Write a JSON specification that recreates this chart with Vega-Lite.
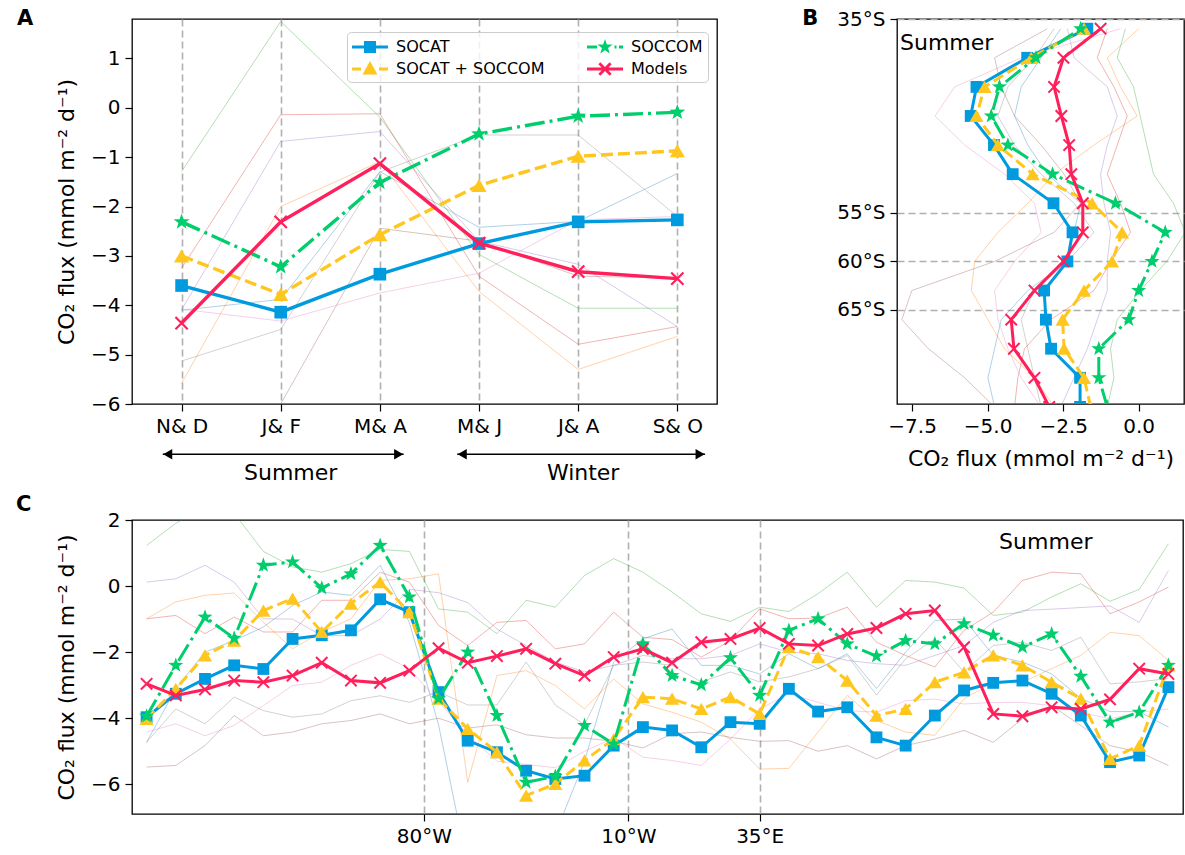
{
"$schema": "https://vega.github.io/schema/vega-lite/v6.json",
"background": "white",
"padding": {"left": 15, "top": 7, "right": 4, "bottom": 4},
"config": {
  "font": "DejaVu Sans",
  "view": {"stroke": "black", "strokeWidth": 1.3},
  "axis": {"domain": false, "grid": false, "tickColor": "black", "tickSize": 7, "tickWidth": 1.2, "labelFontSize": 20, "labelColor": "black", "labelPadding": 5, "titleFontSize": 22, "titleFontWeight": "normal", "titleColor": "black", "labelFont": "DejaVu Sans", "titleFont": "DejaVu Sans"}
},
"datasets": {
  "a_main": [
    {"s":"SOCAT","m":0,"v":-3.6},{"s":"SOCAT","m":1,"v":-4.14},{"s":"SOCAT","m":2,"v":-3.37},{"s":"SOCAT","m":3,"v":-2.75},{"s":"SOCAT","m":4,"v":-2.31},{"s":"SOCAT","m":5,"v":-2.27},
    {"s":"SOCAT + SOCCOM","m":0,"v":-3.0},{"s":"SOCAT + SOCCOM","m":1,"v":-3.78},{"s":"SOCAT + SOCCOM","m":2,"v":-2.57},{"s":"SOCAT + SOCCOM","m":3,"v":-1.57},{"s":"SOCAT + SOCCOM","m":4,"v":-0.98},{"s":"SOCAT + SOCCOM","m":5,"v":-0.87},
    {"s":"SOCCOM","m":0,"v":-2.31},{"s":"SOCCOM","m":1,"v":-3.22},{"s":"SOCCOM","m":2,"v":-1.51},{"s":"SOCCOM","m":3,"v":-0.53},{"s":"SOCCOM","m":4,"v":-0.17},{"s":"SOCCOM","m":5,"v":-0.09},
    {"s":"Models","m":0,"v":-4.36},{"s":"Models","m":1,"v":-2.31},{"s":"Models","m":2,"v":-1.13},{"s":"Models","m":3,"v":-2.74},{"s":"Models","m":4,"v":-3.32},{"s":"Models","m":5,"v":-3.46}
  ],
  "a_thin": [
    {"k":"m1","m":0,"v":-4.1},{"k":"m1","m":1,"v":-3.88},{"k":"m1","m":2,"v":-1.29},{"k":"m1","m":3,"v":-2.42},{"k":"m1","m":4,"v":-2.3},{"k":"m1","m":5,"v":-1.33},
    {"k":"m2","m":0,"v":-5.58},{"k":"m2","m":1,"v":-2.0},{"k":"m2","m":2,"v":-1.09},{"k":"m2","m":3,"v":-3.72},{"k":"m2","m":4,"v":-5.3},{"k":"m2","m":5,"v":-4.63},
    {"k":"m3","m":0,"v":-1.29},{"k":"m3","m":1,"v":1.75},{"k":"m3","m":2,"v":-0.19},{"k":"m3","m":3,"v":-2.97},{"k":"m3","m":4,"v":-4.06},{"k":"m3","m":5,"v":-4.06},
    {"k":"m4","m":0,"v":-3.25},{"k":"m4","m":1,"v":-0.14},{"k":"m4","m":2,"v":-0.12},{"k":"m4","m":3,"v":-3.41},{"k":"m4","m":4,"v":-4.79},{"k":"m4","m":5,"v":-4.43},
    {"k":"m5","m":0,"v":-4.09},{"k":"m5","m":1,"v":-0.68},{"k":"m5","m":2,"v":-0.48},{"k":"m5","m":3,"v":-2.7},{"k":"m5","m":4,"v":-3.17},{"k":"m5","m":5,"v":-4.43},
    {"k":"m6","m":0,"v":-7.0},{"k":"m6","m":1,"v":-6.0},{"k":"m6","m":2,"v":-2.44},{"k":"m6","m":3,"v":-2.7},{"k":"m6","m":4,"v":-3.41},{"k":"m6","m":5,"v":-3.45},
    {"k":"m7","m":0,"v":-4.08},{"k":"m7","m":1,"v":-4.32},{"k":"m7","m":2,"v":-3.75},{"k":"m7","m":3,"v":-3.35},{"k":"m7","m":4,"v":-2.27},{"k":"m7","m":5,"v":-2.2},
    {"k":"m8","m":0,"v":-5.13},{"k":"m8","m":1,"v":-4.49},{"k":"m8","m":2,"v":-1.3},{"k":"m8","m":3,"v":-0.55},{"k":"m8","m":4,"v":-0.55},{"k":"m8","m":5,"v":-2.2}
  ],
  "a_arrows": [{"x1":-0.19,"x2":2.24,"y":-7.02},{"x1":2.78,"x2":5.28,"y":-7.02}],
  "a_text": [{"x":1.1,"y":-7.4,"t":"Summer"},{"x":4.05,"y":-7.4,"t":"Winter"}],
  "a_label": [{"x":-1.66,"y":1.8,"t":"A"}],
  "legend": [{"s":"SOCAT"},{"s":"SOCAT + SOCCOM"},{"s":"SOCCOM"},{"s":"Models"}],
  "b_main": [
    {"s":"SOCAT","lat":-36,"v":-1.7},{"s":"SOCAT","lat":-39,"v":-3.69},{"s":"SOCAT","lat":-42,"v":-5.37},{"s":"SOCAT","lat":-45,"v":-5.56},{"s":"SOCAT","lat":-48,"v":-4.79},{"s":"SOCAT","lat":-51,"v":-4.17},{"s":"SOCAT","lat":-54,"v":-2.82},{"s":"SOCAT","lat":-57,"v":-2.19},{"s":"SOCAT","lat":-60,"v":-2.36},{"s":"SOCAT","lat":-63,"v":-3.13},{"s":"SOCAT","lat":-66,"v":-3.07},{"s":"SOCAT","lat":-69,"v":-2.9},{"s":"SOCAT","lat":-72,"v":-1.94},{"s":"SOCAT","lat":-75,"v":-1.94},
    {"s":"SOCAT + SOCCOM","lat":-36,"v":-1.81},{"s":"SOCAT + SOCCOM","lat":-39,"v":-3.56},{"s":"SOCAT + SOCCOM","lat":-42,"v":-5.1},{"s":"SOCAT + SOCCOM","lat":-45,"v":-5.37},{"s":"SOCAT + SOCCOM","lat":-48,"v":-4.66},{"s":"SOCAT + SOCCOM","lat":-51,"v":-3.51},{"s":"SOCAT + SOCCOM","lat":-54,"v":-1.54},{"s":"SOCAT + SOCCOM","lat":-57,"v":-0.55},{"s":"SOCAT + SOCCOM","lat":-60,"v":-0.88},{"s":"SOCAT + SOCCOM","lat":-63,"v":-1.81},{"s":"SOCAT + SOCCOM","lat":-66,"v":-2.52},{"s":"SOCAT + SOCCOM","lat":-69,"v":-2.47},{"s":"SOCAT + SOCCOM","lat":-72,"v":-1.81},{"s":"SOCAT + SOCCOM","lat":-75,"v":-1.59},
    {"s":"SOCCOM","lat":-36,"v":-1.92},{"s":"SOCCOM","lat":-39,"v":-3.4},{"s":"SOCCOM","lat":-42,"v":-4.61},{"s":"SOCCOM","lat":-45,"v":-4.88},{"s":"SOCCOM","lat":-48,"v":-4.33},{"s":"SOCCOM","lat":-51,"v":-2.85},{"s":"SOCCOM","lat":-54,"v":-0.77},{"s":"SOCCOM","lat":-57,"v":0.88},{"s":"SOCCOM","lat":-60,"v":0.44},{"s":"SOCCOM","lat":-63,"v":0.0},{"s":"SOCCOM","lat":-66,"v":-0.33},{"s":"SOCCOM","lat":-69,"v":-1.32},{"s":"SOCCOM","lat":-72,"v":-1.32},{"s":"SOCCOM","lat":-75,"v":-1.04},
    {"s":"Models","lat":-36,"v":-1.26},{"s":"Models","lat":-39,"v":-2.49},{"s":"Models","lat":-42,"v":-2.8},{"s":"Models","lat":-45,"v":-2.56},{"s":"Models","lat":-48,"v":-2.3},{"s":"Models","lat":-51,"v":-2.23},{"s":"Models","lat":-54,"v":-1.85},{"s":"Models","lat":-57,"v":-1.85},{"s":"Models","lat":-60,"v":-2.49},{"s":"Models","lat":-63,"v":-3.45},{"s":"Models","lat":-66,"v":-4.22},{"s":"Models","lat":-69,"v":-4.13},{"s":"Models","lat":-72,"v":-3.45},{"s":"Models","lat":-75,"v":-2.96}
  ],
  "b_thin": [
    {"k":"m1","lat":-36,"v":-2.58},{"k":"m1","lat":-39,"v":-3.23},{"k":"m1","lat":-42,"v":-3.89},{"k":"m1","lat":-45,"v":-4.11},{"k":"m1","lat":-48,"v":-3.67},{"k":"m1","lat":-51,"v":-3.02},{"k":"m1","lat":-54,"v":-1.92},{"k":"m1","lat":-57,"v":-2.14},{"k":"m1","lat":-60,"v":-2.36},{"k":"m1","lat":-63,"v":-3.67},{"k":"m1","lat":-66,"v":-4.55},{"k":"m1","lat":-69,"v":-4.77},{"k":"m1","lat":-72,"v":-4.99},{"k":"m1","lat":-75,"v":-4.77},
    {"k":"m2","lat":-36,"v":0.0},{"k":"m2","lat":-39,"v":-1.04},{"k":"m2","lat":-42,"v":-0.6},{"k":"m2","lat":-45,"v":-0.05},{"k":"m2","lat":-48,"v":-1.48},{"k":"m2","lat":-51,"v":-2.8},{"k":"m2","lat":-54,"v":-3.67},{"k":"m2","lat":-57,"v":-4.66},{"k":"m2","lat":-60,"v":-5.43},{"k":"m2","lat":-63,"v":-5.54},{"k":"m2","lat":-66,"v":-4.99},{"k":"m2","lat":-69,"v":-4.44},{"k":"m2","lat":-72,"v":-3.45},{"k":"m2","lat":-75,"v":-2.8},
    {"k":"m3","lat":-36,"v":-0.44},{"k":"m3","lat":-39,"v":-0.71},{"k":"m3","lat":-42,"v":-0.17},{"k":"m3","lat":-45,"v":0.05},{"k":"m3","lat":-48,"v":0.27},{"k":"m3","lat":-51,"v":0.49},{"k":"m3","lat":-54,"v":1.15},{"k":"m3","lat":-57,"v":1.54},{"k":"m3","lat":-60,"v":0.93},{"k":"m3","lat":-63,"v":0.05},{"k":"m3","lat":-66,"v":-0.71},{"k":"m3","lat":-69,"v":-0.93},{"k":"m3","lat":-72,"v":-0.82},{"k":"m3","lat":-75,"v":-1.04},
    {"k":"m4","lat":-36,"v":-1.04},{"k":"m4","lat":-39,"v":-1.37},{"k":"m4","lat":-42,"v":-0.82},{"k":"m4","lat":-45,"v":-0.38},{"k":"m4","lat":-48,"v":-0.71},{"k":"m4","lat":-51,"v":-1.04},{"k":"m4","lat":-54,"v":-0.6},{"k":"m4","lat":-57,"v":-0.27},{"k":"m4","lat":-60,"v":-0.93},{"k":"m4","lat":-63,"v":-1.48},{"k":"m4","lat":-66,"v":-2.91},{"k":"m4","lat":-69,"v":-3.78},{"k":"m4","lat":-72,"v":-4.0},{"k":"m4","lat":-75,"v":-4.11},
    {"k":"m5","lat":-36,"v":-2.36},{"k":"m5","lat":-39,"v":-2.14},{"k":"m5","lat":-42,"v":-1.04},{"k":"m5","lat":-45,"v":-0.71},{"k":"m5","lat":-48,"v":-1.04},{"k":"m5","lat":-51,"v":-1.26},{"k":"m5","lat":-54,"v":-1.15},{"k":"m5","lat":-57,"v":-0.93},{"k":"m5","lat":-60,"v":-1.04},{"k":"m5","lat":-63,"v":-1.04},{"k":"m5","lat":-66,"v":-1.37},{"k":"m5","lat":-69,"v":-1.7},{"k":"m5","lat":-72,"v":-2.14},{"k":"m5","lat":-75,"v":-2.58},
    {"k":"m6","lat":-36,"v":-3.02},{"k":"m6","lat":-39,"v":-4.77},{"k":"m6","lat":-42,"v":-4.55},{"k":"m6","lat":-45,"v":-4.11},{"k":"m6","lat":-48,"v":-3.23},{"k":"m6","lat":-51,"v":-2.47},{"k":"m6","lat":-54,"v":-1.92},{"k":"m6","lat":-57,"v":-2.8},{"k":"m6","lat":-60,"v":-4.77},{"k":"m6","lat":-63,"v":-7.51},{"k":"m6","lat":-66,"v":-7.84},{"k":"m6","lat":-69,"v":-6.96},{"k":"m6","lat":-72,"v":-5.76},{"k":"m6","lat":-75,"v":-4.77},
    {"k":"m7","lat":-36,"v":-0.6},{"k":"m7","lat":-39,"v":-3.89},{"k":"m7","lat":-42,"v":-6.09},{"k":"m7","lat":-45,"v":-6.74},{"k":"m7","lat":-48,"v":-5.76},{"k":"m7","lat":-51,"v":-4.44},{"k":"m7","lat":-54,"v":-3.45},{"k":"m7","lat":-57,"v":-3.23},{"k":"m7","lat":-60,"v":-4.11},{"k":"m7","lat":-63,"v":-4.77},{"k":"m7","lat":-66,"v":-4.66},{"k":"m7","lat":-69,"v":-4.33},{"k":"m7","lat":-72,"v":-3.89},{"k":"m7","lat":-75,"v":-3.23},
    {"k":"m8","lat":-36,"v":-2.8},{"k":"m8","lat":-39,"v":-3.45},{"k":"m8","lat":-42,"v":-4.33},{"k":"m8","lat":-45,"v":-4.66},{"k":"m8","lat":-48,"v":-4.11},{"k":"m8","lat":-51,"v":-3.23},{"k":"m8","lat":-54,"v":-2.14},{"k":"m8","lat":-57,"v":-1.48},{"k":"m8","lat":-60,"v":-2.36},{"k":"m8","lat":-63,"v":-3.45},{"k":"m8","lat":-66,"v":-3.89},{"k":"m8","lat":-69,"v":-3.67},{"k":"m8","lat":-72,"v":-3.45},{"k":"m8","lat":-75,"v":-3.23}
  ],
  "b_text": [{"x":-7.9,"lat":-37.5,"t":"Summer"}],
  "b_label": [{"x":-11.14,"lat":-35,"t":"B"}],
  "c_main": [
    {"s":"SOCAT","lon":-175,"v":-3.97},{"s":"SOCAT","lon":-165,"v":-3.26},{"s":"SOCAT","lon":-155,"v":-2.81},{"s":"SOCAT","lon":-145,"v":-2.4},{"s":"SOCAT","lon":-135,"v":-2.51},{"s":"SOCAT","lon":-125,"v":-1.6},{"s":"SOCAT","lon":-115,"v":-1.49},{"s":"SOCAT","lon":-105,"v":-1.34},{"s":"SOCAT","lon":-95,"v":-0.4},{"s":"SOCAT","lon":-85,"v":-0.79},{"s":"SOCAT","lon":-75,"v":-3.21},{"s":"SOCAT","lon":-65,"v":-4.68},{"s":"SOCAT","lon":-55,"v":-5.03},{"s":"SOCAT","lon":-45,"v":-5.59},{"s":"SOCAT","lon":-35,"v":-5.84},{"s":"SOCAT","lon":-25,"v":-5.74},{"s":"SOCAT","lon":-15,"v":-4.83},{"s":"SOCAT","lon":-5,"v":-4.27},{"s":"SOCAT","lon":5,"v":-4.37},{"s":"SOCAT","lon":15,"v":-4.88},{"s":"SOCAT","lon":25,"v":-4.12},{"s":"SOCAT","lon":35,"v":-4.17},{"s":"SOCAT","lon":45,"v":-3.11},{"s":"SOCAT","lon":55,"v":-3.8},{"s":"SOCAT","lon":65,"v":-3.67},{"s":"SOCAT","lon":75,"v":-4.58},{"s":"SOCAT","lon":85,"v":-4.83},{"s":"SOCAT","lon":95,"v":-3.92},{"s":"SOCAT","lon":105,"v":-3.16},{"s":"SOCAT","lon":115,"v":-2.93},{"s":"SOCAT","lon":125,"v":-2.86},{"s":"SOCAT","lon":135,"v":-3.26},{"s":"SOCAT","lon":145,"v":-3.92},{"s":"SOCAT","lon":155,"v":-5.33},{"s":"SOCAT","lon":165,"v":-5.13},{"s":"SOCAT","lon":175,"v":-3.06},
    {"s":"SOCAT + SOCCOM","lon":-175,"v":-4.02},{"s":"SOCAT + SOCCOM","lon":-165,"v":-3.11},{"s":"SOCAT + SOCCOM","lon":-155,"v":-2.1},{"s":"SOCAT + SOCCOM","lon":-145,"v":-1.65},{"s":"SOCAT + SOCCOM","lon":-135,"v":-0.74},{"s":"SOCAT + SOCCOM","lon":-125,"v":-0.38},{"s":"SOCAT + SOCCOM","lon":-115,"v":-1.39},{"s":"SOCAT + SOCCOM","lon":-105,"v":-0.53},{"s":"SOCAT + SOCCOM","lon":-95,"v":0.12},{"s":"SOCAT + SOCCOM","lon":-85,"v":-0.79},{"s":"SOCAT + SOCCOM","lon":-75,"v":-3.41},{"s":"SOCAT + SOCCOM","lon":-65,"v":-4.32},{"s":"SOCAT + SOCCOM","lon":-55,"v":-5.03},{"s":"SOCAT + SOCCOM","lon":-45,"v":-6.34},{"s":"SOCAT + SOCCOM","lon":-35,"v":-5.99},{"s":"SOCAT + SOCCOM","lon":-25,"v":-5.28},{"s":"SOCAT + SOCCOM","lon":-15,"v":-4.63},{"s":"SOCAT + SOCCOM","lon":-5,"v":-3.36},{"s":"SOCAT + SOCCOM","lon":5,"v":-3.41},{"s":"SOCAT + SOCCOM","lon":15,"v":-3.72},{"s":"SOCAT + SOCCOM","lon":25,"v":-3.36},{"s":"SOCAT + SOCCOM","lon":35,"v":-3.87},{"s":"SOCAT + SOCCOM","lon":45,"v":-1.85},{"s":"SOCAT + SOCCOM","lon":55,"v":-2.15},{"s":"SOCAT + SOCCOM","lon":65,"v":-2.86},{"s":"SOCAT + SOCCOM","lon":75,"v":-3.92},{"s":"SOCAT + SOCCOM","lon":85,"v":-3.72},{"s":"SOCAT + SOCCOM","lon":95,"v":-2.91},{"s":"SOCAT + SOCCOM","lon":105,"v":-2.61},{"s":"SOCAT + SOCCOM","lon":115,"v":-2.1},{"s":"SOCAT + SOCCOM","lon":125,"v":-2.4},{"s":"SOCAT + SOCCOM","lon":135,"v":-2.91},{"s":"SOCAT + SOCCOM","lon":145,"v":-3.41},{"s":"SOCAT + SOCCOM","lon":155,"v":-5.23},{"s":"SOCAT + SOCCOM","lon":165,"v":-4.83},{"s":"SOCAT + SOCCOM","lon":175,"v":-2.4},
    {"s":"SOCCOM","lon":-175,"v":-3.94},{"s":"SOCCOM","lon":-165,"v":-2.4},{"s":"SOCCOM","lon":-155,"v":-0.94},{"s":"SOCCOM","lon":-145,"v":-1.58},{"s":"SOCCOM","lon":-135,"v":0.63},{"s":"SOCCOM","lon":-125,"v":0.73},{"s":"SOCCOM","lon":-115,"v":-0.06},{"s":"SOCCOM","lon":-105,"v":0.37},{"s":"SOCCOM","lon":-95,"v":1.23},{"s":"SOCCOM","lon":-85,"v":-0.33},{"s":"SOCCOM","lon":-75,"v":-3.41},{"s":"SOCCOM","lon":-65,"v":-2.0},{"s":"SOCCOM","lon":-55,"v":-3.92},{"s":"SOCCOM","lon":-45,"v":-5.94},{"s":"SOCCOM","lon":-35,"v":-5.76},{"s":"SOCCOM","lon":-25,"v":-4.22},{"s":"SOCCOM","lon":-15,"v":-4.78},{"s":"SOCCOM","lon":-5,"v":-1.75},{"s":"SOCCOM","lon":5,"v":-2.71},{"s":"SOCCOM","lon":15,"v":-2.99},{"s":"SOCCOM","lon":25,"v":-2.17},{"s":"SOCCOM","lon":35,"v":-3.31},{"s":"SOCCOM","lon":45,"v":-1.34},{"s":"SOCCOM","lon":55,"v":-0.99},{"s":"SOCCOM","lon":65,"v":-1.75},{"s":"SOCCOM","lon":75,"v":-2.12},{"s":"SOCCOM","lon":85,"v":-1.65},{"s":"SOCCOM","lon":95,"v":-1.75},{"s":"SOCCOM","lon":105,"v":-1.14},{"s":"SOCCOM","lon":115,"v":-1.49},{"s":"SOCCOM","lon":125,"v":-1.85},{"s":"SOCCOM","lon":135,"v":-1.45},{"s":"SOCCOM","lon":145,"v":-2.73},{"s":"SOCCOM","lon":155,"v":-4.12},{"s":"SOCCOM","lon":165,"v":-3.82},{"s":"SOCCOM","lon":175,"v":-2.4},
    {"s":"Models","lon":-175,"v":-2.96},{"s":"Models","lon":-165,"v":-3.31},{"s":"Models","lon":-155,"v":-3.13},{"s":"Models","lon":-145,"v":-2.86},{"s":"Models","lon":-135,"v":-2.91},{"s":"Models","lon":-125,"v":-2.71},{"s":"Models","lon":-115,"v":-2.32},{"s":"Models","lon":-105,"v":-2.86},{"s":"Models","lon":-95,"v":-2.93},{"s":"Models","lon":-85,"v":-2.56},{"s":"Models","lon":-75,"v":-1.88},{"s":"Models","lon":-65,"v":-2.32},{"s":"Models","lon":-55,"v":-2.12},{"s":"Models","lon":-45,"v":-1.9},{"s":"Models","lon":-35,"v":-2.35},{"s":"Models","lon":-25,"v":-2.71},{"s":"Models","lon":-15,"v":-2.15},{"s":"Models","lon":-5,"v":-1.9},{"s":"Models","lon":5,"v":-2.32},{"s":"Models","lon":15,"v":-1.7},{"s":"Models","lon":25,"v":-1.6},{"s":"Models","lon":35,"v":-1.27},{"s":"Models","lon":45,"v":-1.75},{"s":"Models","lon":55,"v":-1.8},{"s":"Models","lon":65,"v":-1.45},{"s":"Models","lon":75,"v":-1.27},{"s":"Models","lon":85,"v":-0.84},{"s":"Models","lon":95,"v":-0.74},{"s":"Models","lon":105,"v":-1.85},{"s":"Models","lon":115,"v":-3.87},{"s":"Models","lon":125,"v":-3.94},{"s":"Models","lon":135,"v":-3.67},{"s":"Models","lon":145,"v":-3.72},{"s":"Models","lon":155,"v":-3.43},{"s":"Models","lon":165,"v":-2.5},{"s":"Models","lon":175,"v":-2.66}
  ],
  "c_thin": [
    {"k":"m1","lon":-175,"v":-4.73},{"k":"m1","lon":-165,"v":-3.11},{"k":"m1","lon":-155,"v":-2.0},{"k":"m1","lon":-145,"v":-1.65},{"k":"m1","lon":-135,"v":-1.24},{"k":"m1","lon":-125,"v":-0.59},{"k":"m1","lon":-115,"v":-0.18},{"k":"m1","lon":-105,"v":-0.28},{"k":"m1","lon":-95,"v":0.63},{"k":"m1","lon":-85,"v":-1.1},{"k":"m1","lon":-75,"v":-4.2},{"k":"m1","lon":-65,"v":-8.5},{"k":"m1","lon":-55,"v":-8.5},{"k":"m1","lon":-45,"v":-8.5},{"k":"m1","lon":-35,"v":-7.5},{"k":"m1","lon":-25,"v":-5.3},{"k":"m1","lon":-15,"v":-2.3},{"k":"m1","lon":-5,"v":-1.6},{"k":"m1","lon":5,"v":-1.3},{"k":"m1","lon":15,"v":-2.4},{"k":"m1","lon":25,"v":-2.4},{"k":"m1","lon":35,"v":-2.66},{"k":"m1","lon":45,"v":-2.05},{"k":"m1","lon":55,"v":-2.5},{"k":"m1","lon":65,"v":-2.05},{"k":"m1","lon":75,"v":-3.1},{"k":"m1","lon":85,"v":-2.0},{"k":"m1","lon":95,"v":-1.04},{"k":"m1","lon":105,"v":-1.0},{"k":"m1","lon":115,"v":-2.1},{"k":"m1","lon":125,"v":-2.3},{"k":"m1","lon":135,"v":-2.66},{"k":"m1","lon":145,"v":-3.4},{"k":"m1","lon":155,"v":-3.8},{"k":"m1","lon":165,"v":-3.8},{"k":"m1","lon":175,"v":-4.27},
    {"k":"m2","lon":-175,"v":-0.99},{"k":"m2","lon":-165,"v":-0.48},{"k":"m2","lon":-155,"v":-0.28},{"k":"m2","lon":-145,"v":-0.21},{"k":"m2","lon":-135,"v":-1.09},{"k":"m2","lon":-125,"v":-1.9},{"k":"m2","lon":-115,"v":-1.39},{"k":"m2","lon":-105,"v":-0.99},{"k":"m2","lon":-95,"v":0.17},{"k":"m2","lon":-85,"v":0.22},{"k":"m2","lon":-75,"v":0.37},{"k":"m2","lon":-65,"v":-5.94},{"k":"m2","lon":-55,"v":-2.71},{"k":"m2","lon":-45,"v":-2.56},{"k":"m2","lon":-35,"v":-3.01},{"k":"m2","lon":-25,"v":-3.72},{"k":"m2","lon":-15,"v":-2.81},{"k":"m2","lon":-5,"v":-3.57},{"k":"m2","lon":5,"v":-3.82},{"k":"m2","lon":15,"v":-4.12},{"k":"m2","lon":25,"v":-4.63},{"k":"m2","lon":35,"v":-5.54},{"k":"m2","lon":45,"v":-5.52},{"k":"m2","lon":55,"v":-4.42},{"k":"m2","lon":65,"v":-3.31},{"k":"m2","lon":75,"v":-4.07},{"k":"m2","lon":85,"v":-4.42},{"k":"m2","lon":95,"v":-4.52},{"k":"m2","lon":105,"v":-3.41},{"k":"m2","lon":115,"v":-2.91},{"k":"m2","lon":125,"v":-2.91},{"k":"m2","lon":135,"v":-2.5},{"k":"m2","lon":145,"v":-2.1},{"k":"m2","lon":155,"v":-1.4},{"k":"m2","lon":165,"v":-1.5},{"k":"m2","lon":175,"v":-2.25},
    {"k":"m3","lon":-175,"v":1.23},{"k":"m3","lon":-165,"v":1.9},{"k":"m3","lon":-155,"v":2.4},{"k":"m3","lon":-145,"v":2.2},{"k":"m3","lon":-135,"v":1.05},{"k":"m3","lon":-125,"v":0.58},{"k":"m3","lon":-115,"v":0.42},{"k":"m3","lon":-105,"v":0.68},{"k":"m3","lon":-95,"v":1.11},{"k":"m3","lon":-85,"v":1.05},{"k":"m3","lon":-75,"v":-0.69},{"k":"m3","lon":-65,"v":-0.79},{"k":"m3","lon":-55,"v":-1.44},{"k":"m3","lon":-45,"v":-0.43},{"k":"m3","lon":-35,"v":-0.64},{"k":"m3","lon":-25,"v":0.32},{"k":"m3","lon":-15,"v":0.83},{"k":"m3","lon":-5,"v":0.42},{"k":"m3","lon":5,"v":-0.18},{"k":"m3","lon":15,"v":-0.84},{"k":"m3","lon":25,"v":-1.07},{"k":"m3","lon":35,"v":-0.64},{"k":"m3","lon":45,"v":-0.77},{"k":"m3","lon":55,"v":-0.23},{"k":"m3","lon":65,"v":0.42},{"k":"m3","lon":75,"v":-0.64},{"k":"m3","lon":85,"v":0.17},{"k":"m3","lon":95,"v":0.12},{"k":"m3","lon":105,"v":-0.06},{"k":"m3","lon":115,"v":-0.89},{"k":"m3","lon":125,"v":-0.79},{"k":"m3","lon":135,"v":-0.33},{"k":"m3","lon":145,"v":0.07},{"k":"m3","lon":155,"v":-0.46},{"k":"m3","lon":165,"v":-0.1},{"k":"m3","lon":175,"v":1.28},
    {"k":"m4","lon":-175,"v":-0.99},{"k":"m4","lon":-165,"v":-0.89},{"k":"m4","lon":-155,"v":-1.44},{"k":"m4","lon":-145,"v":-0.94},{"k":"m4","lon":-135,"v":-1.39},{"k":"m4","lon":-125,"v":-1.39},{"k":"m4","lon":-115,"v":-0.43},{"k":"m4","lon":-105,"v":-0.43},{"k":"m4","lon":-95,"v":0.42},{"k":"m4","lon":-85,"v":0.12},{"k":"m4","lon":-75,"v":-1.19},{"k":"m4","lon":-65,"v":-1.8},{"k":"m4","lon":-55,"v":-1.1},{"k":"m4","lon":-45,"v":-1.04},{"k":"m4","lon":-35,"v":-1.9},{"k":"m4","lon":-25,"v":-1.75},{"k":"m4","lon":-15,"v":-0.79},{"k":"m4","lon":-5,"v":-1.55},{"k":"m4","lon":5,"v":-1.62},{"k":"m4","lon":15,"v":-2.15},{"k":"m4","lon":25,"v":-1.65},{"k":"m4","lon":35,"v":-0.69},{"k":"m4","lon":45,"v":-0.99},{"k":"m4","lon":55,"v":-0.97},{"k":"m4","lon":65,"v":-0.64},{"k":"m4","lon":75,"v":-1.7},{"k":"m4","lon":85,"v":-2.1},{"k":"m4","lon":95,"v":-2.45},{"k":"m4","lon":105,"v":-1.34},{"k":"m4","lon":115,"v":-0.79},{"k":"m4","lon":125,"v":0.17},{"k":"m4","lon":135,"v":0.42},{"k":"m4","lon":145,"v":0.37},{"k":"m4","lon":155,"v":-0.84},{"k":"m4","lon":165,"v":-0.48},{"k":"m4","lon":175,"v":-0.03},
    {"k":"m5","lon":-175,"v":0.12},{"k":"m5","lon":-165,"v":0.22},{"k":"m5","lon":-155,"v":0.63},{"k":"m5","lon":-145,"v":0.12},{"k":"m5","lon":-135,"v":-0.99},{"k":"m5","lon":-125,"v":-1.0},{"k":"m5","lon":-115,"v":-1.5},{"k":"m5","lon":-105,"v":-1.5},{"k":"m5","lon":-95,"v":-1.0},{"k":"m5","lon":-85,"v":-0.1},{"k":"m5","lon":-75,"v":-0.2},{"k":"m5","lon":-65,"v":-0.5},{"k":"m5","lon":-55,"v":-1.3},{"k":"m5","lon":-45,"v":-1.8},{"k":"m5","lon":-35,"v":-2.3},{"k":"m5","lon":-25,"v":-2.6},{"k":"m5","lon":-15,"v":-2.4},{"k":"m5","lon":-5,"v":-2.1},{"k":"m5","lon":5,"v":-2.2},{"k":"m5","lon":15,"v":-2.2},{"k":"m5","lon":25,"v":-2.1},{"k":"m5","lon":35,"v":-1.75},{"k":"m5","lon":45,"v":-2.0},{"k":"m5","lon":55,"v":-2.05},{"k":"m5","lon":65,"v":-2.25},{"k":"m5","lon":75,"v":-2.35},{"k":"m5","lon":85,"v":-2.4},{"k":"m5","lon":95,"v":-2.1},{"k":"m5","lon":105,"v":-1.8},{"k":"m5","lon":115,"v":-1.1},{"k":"m5","lon":125,"v":-0.74},{"k":"m5","lon":135,"v":-0.7},{"k":"m5","lon":145,"v":-0.65},{"k":"m5","lon":155,"v":-0.6},{"k":"m5","lon":165,"v":-1.1},{"k":"m5","lon":175,"v":0.47},
    {"k":"m6","lon":-175,"v":-5.48},{"k":"m6","lon":-165,"v":-5.43},{"k":"m6","lon":-155,"v":-4.83},{"k":"m6","lon":-145,"v":-3.92},{"k":"m6","lon":-135,"v":-4.53},{"k":"m6","lon":-125,"v":-4.42},{"k":"m6","lon":-115,"v":-4.17},{"k":"m6","lon":-105,"v":-4.07},{"k":"m6","lon":-95,"v":-3.87},{"k":"m6","lon":-85,"v":-4.17},{"k":"m6","lon":-75,"v":-4.0},{"k":"m6","lon":-65,"v":-4.3},{"k":"m6","lon":-55,"v":-4.2},{"k":"m6","lon":-45,"v":-4.5},{"k":"m6","lon":-35,"v":-4.6},{"k":"m6","lon":-25,"v":-4.6},{"k":"m6","lon":-15,"v":-4.7},{"k":"m6","lon":-5,"v":-4.9},{"k":"m6","lon":5,"v":-4.47},{"k":"m6","lon":15,"v":-4.42},{"k":"m6","lon":25,"v":-4.58},{"k":"m6","lon":35,"v":-4.7},{"k":"m6","lon":45,"v":-4.68},{"k":"m6","lon":55,"v":-5.0},{"k":"m6","lon":65,"v":-4.83},{"k":"m6","lon":75,"v":-5.23},{"k":"m6","lon":85,"v":-4.83},{"k":"m6","lon":95,"v":-4.63},{"k":"m6","lon":105,"v":-4.37},{"k":"m6","lon":115,"v":-4.73},{"k":"m6","lon":125,"v":-4.02},{"k":"m6","lon":135,"v":-3.62},{"k":"m6","lon":145,"v":-4.22},{"k":"m6","lon":155,"v":-4.83},{"k":"m6","lon":165,"v":-5.03},{"k":"m6","lon":175,"v":-5.43},
    {"k":"m7","lon":-175,"v":-4.42},{"k":"m7","lon":-165,"v":-4.17},{"k":"m7","lon":-155,"v":-4.53},{"k":"m7","lon":-145,"v":-4.22},{"k":"m7","lon":-135,"v":-3.62},{"k":"m7","lon":-125,"v":-3.01},{"k":"m7","lon":-115,"v":-2.91},{"k":"m7","lon":-105,"v":-2.4},{"k":"m7","lon":-95,"v":-2.05},{"k":"m7","lon":-85,"v":-2.5},{"k":"m7","lon":-75,"v":-3.5},{"k":"m7","lon":-65,"v":-4.5},{"k":"m7","lon":-55,"v":-5.3},{"k":"m7","lon":-45,"v":-5.4},{"k":"m7","lon":-35,"v":-5.5},{"k":"m7","lon":-25,"v":-5.0},{"k":"m7","lon":-15,"v":-4.6},{"k":"m7","lon":-5,"v":-5.18},{"k":"m7","lon":5,"v":-5.28},{"k":"m7","lon":15,"v":-5.43},{"k":"m7","lon":25,"v":-4.63},{"k":"m7","lon":35,"v":-3.72},{"k":"m7","lon":45,"v":-3.26},{"k":"m7","lon":55,"v":-3.52},{"k":"m7","lon":65,"v":-3.77},{"k":"m7","lon":75,"v":-3.82},{"k":"m7","lon":85,"v":-3.47},{"k":"m7","lon":95,"v":-3.42},{"k":"m7","lon":105,"v":-3.57},{"k":"m7","lon":115,"v":-3.52},{"k":"m7","lon":125,"v":-3.52},{"k":"m7","lon":135,"v":-3.62},{"k":"m7","lon":145,"v":-3.82},{"k":"m7","lon":155,"v":-4.02},{"k":"m7","lon":165,"v":-3.82},{"k":"m7","lon":175,"v":-3.72},
    {"k":"m8","lon":-175,"v":-4.73},{"k":"m8","lon":-165,"v":-3.72},{"k":"m8","lon":-155,"v":-4.17},{"k":"m8","lon":-145,"v":-3.36},{"k":"m8","lon":-135,"v":-3.77},{"k":"m8","lon":-125,"v":-3.97},{"k":"m8","lon":-115,"v":-3.87},{"k":"m8","lon":-105,"v":-3.47},{"k":"m8","lon":-95,"v":-3.32},{"k":"m8","lon":-85,"v":-3.52},{"k":"m8","lon":-75,"v":-3.2},{"k":"m8","lon":-65,"v":-3.6},{"k":"m8","lon":-55,"v":-3.6},{"k":"m8","lon":-45,"v":-2.3},{"k":"m8","lon":-35,"v":-3.6},{"k":"m8","lon":-25,"v":-4.2},{"k":"m8","lon":-15,"v":-2.4},{"k":"m8","lon":-5,"v":-2.3},{"k":"m8","lon":5,"v":-2.4},{"k":"m8","lon":15,"v":-2.9},{"k":"m8","lon":25,"v":-2.6},{"k":"m8","lon":35,"v":-2.9},{"k":"m8","lon":45,"v":-2.75},{"k":"m8","lon":55,"v":-2.5},{"k":"m8","lon":65,"v":-2.1},{"k":"m8","lon":75,"v":-3.3},{"k":"m8","lon":85,"v":-2.2},{"k":"m8","lon":95,"v":-1.6},{"k":"m8","lon":105,"v":-2.6},{"k":"m8","lon":115,"v":-1.8},{"k":"m8","lon":125,"v":-1.7},{"k":"m8","lon":135,"v":-1.95},{"k":"m8","lon":145,"v":-1.55},{"k":"m8","lon":155,"v":-2.96},{"k":"m8","lon":165,"v":-2.9},{"k":"m8","lon":175,"v":-2.8}
  ],
  "c_text": [{"lon":133,"v":1.33,"t":"Summer"}],
  "c_label": [{"lon":-219.7,"v":2.45,"t":"C"}]
},
"spacing": 8,
"resolve": {"scale": {"x": "independent", "y": "independent"}},
"vconcat": [
  {
    "hconcat": [
      {
        "width": 585, "height": 385,
        "layer": [
          {
            "data": {"name": "a_thin"},
            "mark": {"type": "line", "strokeWidth": 1, "opacity": 0.35, "clip": true},
            "encoding": {
              "x": {"field": "m", "type": "quantitative", "scale": {"domain": [-0.5, 5.4], "nice": false, "zero": false},
                    "axis": {"values": [0,1,2,3,4,5], "labelExpr": "['N& D','J& F','M& A','M& J','J& A','S& O'][datum.value]", "grid": true, "gridDash": [7,4], "gridColor": "#b0b0b0", "gridWidth": 1.6, "title": null}},
              "y": {"field": "v", "type": "quantitative", "scale": {"domain": [-6, 1.8], "nice": false, "zero": false},
                    "axis": {"values": [-6,-5,-4,-3,-2,-1,0,1], "format": "d", "title": "CO₂ flux (mmol m⁻² d⁻¹)", "titlePadding": 12}},
              "stroke": {"field": "k", "type": "nominal", "scale": {"domain": ["m1","m2","m3","m4","m5","m6","m7","m8"], "range": ["#1f77b4","#ff7f0e","#2ca02c","#d62728","#9467bd","#8c564b","#e377c2","#7f7f7f"]}, "legend": null}
            }
          },
          {
            "data": {"name": "a_main"}, "transform": [{"filter": {"field": "s", "equal": "SOCAT"}}],
            "mark": {"type": "line", "color": "#009ADE", "strokeWidth": 3.4, "point": {"shape": "square", "size": 160, "filled": true, "color": "#009ADE"}},
            "encoding": {"x": {"field": "m", "type": "quantitative"}, "y": {"field": "v", "type": "quantitative"}}
          },
          {
            "data": {"name": "a_main"}, "transform": [{"filter": {"field": "s", "equal": "SOCAT + SOCCOM"}}],
            "mark": {"type": "line", "color": "#FFC61E", "strokeWidth": 3.4, "strokeDash": [12,5], "point": {"shape": "triangle-up", "size": 230, "filled": true, "color": "#FFC61E"}},
            "encoding": {"x": {"field": "m", "type": "quantitative"}, "y": {"field": "v", "type": "quantitative"}}
          },
          {
            "data": {"name": "a_main"}, "transform": [{"filter": {"field": "s", "equal": "SOCCOM"}}],
            "mark": {"type": "line", "color": "#00CD6C", "strokeWidth": 3.4, "strokeDash": [20,5,3,5], "point": {"shape": "M0,-1L0.235,-0.324L0.951,-0.309L0.38,0.124L0.588,0.809L0,0.4L-0.588,0.809L-0.38,0.124L-0.951,-0.309L-0.235,-0.324Z", "size": 280, "filled": true, "color": "#00CD6C"}},
            "encoding": {"x": {"field": "m", "type": "quantitative"}, "y": {"field": "v", "type": "quantitative"}}
          },
          {
            "data": {"name": "a_main"}, "transform": [{"filter": {"field": "s", "equal": "Models"}}],
            "mark": {"type": "line", "color": "#FF1F5B", "strokeWidth": 3.4, "point": {"shape": "M-1,-1L1,1M-1,1L1,-1", "size": 150, "filled": false, "strokeWidth": 2.2, "color": "#FF1F5B"}},
            "encoding": {"x": {"field": "m", "type": "quantitative"}, "y": {"field": "v", "type": "quantitative"}}
          },
          {
            "data": {"name": "a_arrows"},
            "mark": {"type": "rule", "color": "black", "strokeWidth": 1.5},
            "encoding": {"x": {"field": "x1", "type": "quantitative"}, "x2": {"field": "x2"}, "y": {"field": "y", "type": "quantitative"}}
          },
          {
            "data": {"name": "a_arrows"},
            "mark": {"type": "point", "shape": "triangle-left", "filled": true, "color": "black", "size": 110, "opacity": 1, "xOffset": 5},
            "encoding": {"x": {"field": "x1", "type": "quantitative"}, "y": {"field": "y", "type": "quantitative"}}
          },
          {
            "data": {"name": "a_arrows"},
            "mark": {"type": "point", "shape": "triangle-right", "filled": true, "color": "black", "size": 110, "opacity": 1, "xOffset": -5},
            "encoding": {"x": {"field": "x2", "type": "quantitative"}, "y": {"field": "y", "type": "quantitative"}}
          },
          {
            "data": {"name": "a_text"},
            "mark": {"type": "text", "fontSize": 22, "align": "center", "baseline": "middle", "color": "black"},
            "encoding": {"x": {"field": "x", "type": "quantitative"}, "y": {"field": "y", "type": "quantitative"}, "text": {"field": "t"}}
          },
          {
            "data": {"name": "a_label"},
            "mark": {"type": "text", "fontSize": 21, "fontWeight": "bold", "align": "left", "baseline": "middle", "color": "black"},
            "encoding": {"x": {"field": "x", "type": "quantitative"}, "y": {"field": "y", "type": "quantitative"}, "text": {"field": "t"}}
          },
          {
            "data": {"name": "legend"}, "transform": [{"filter": "false"}],
            "mark": {"type": "point", "filled": true, "size": 400, "opacity": 1},
            "encoding": {
              "color": {"field": "s", "type": "nominal",
                "scale": {"domain": ["SOCAT","SOCAT + SOCCOM","SOCCOM","Models"], "range": ["#009ADE","#FFC61E","#00CD6C","#FF1F5B"]},
                "legend": {"orient": "none", "legendX": 215, "legendY": 13, "columns": 2, "columnPadding": 42, "rowPadding": 4, "padding": 5, "title": null, "strokeColor": "#cccccc", "fillColor": "rgba(255,255,255,0.8)", "cornerRadius": 4, "labelFontSize": 16, "labelColor": "black", "labelOffset": 16, "symbolOffset": 8, "symbolSize": 400, "symbolStrokeWidth": 0, "symbolOpacity": 1}},
              "shape": {"field": "s", "type": "nominal",
                "scale": {"domain": ["SOCAT","SOCAT + SOCCOM","SOCCOM","Models"], "range": [
                  "M-1.8,-0.15H1.8V0.15H-1.8ZM-0.6,-0.6H0.6V0.6H-0.6Z",
                  "M-1.8,-0.15H-0.9V0.15H-1.8ZM0.9,-0.15H1.8V0.15H0.9ZM0,-0.8L0.75,0.55H-0.75Z",
                  "M-1.8,-0.15H-0.8V0.15H-1.8ZM0.95,-0.15H1.15V0.15H0.95ZM1.4,-0.15H1.8V0.15H1.4ZM0,-0.8L0.188,-0.259L0.761,-0.247L0.304,0.099L0.47,0.647L0,0.32L-0.47,0.647L-0.304,0.099L-0.761,-0.247L-0.188,-0.259Z",
                  "M-1.8,-0.15H1.8V0.15H-1.8ZM-0.665,0.467L-0.198,0L-0.665,-0.467L-0.467,-0.665L0,-0.198L0.467,-0.665L0.665,-0.467L0.198,0L0.665,0.467L0.467,0.665L0,0.198L-0.467,0.665Z"
                ]},
                "legend": {"orient": "none", "legendX": 215, "legendY": 13, "columns": 2, "columnPadding": 42, "rowPadding": 4, "padding": 5, "title": null, "strokeColor": "#cccccc", "fillColor": "rgba(255,255,255,0.8)", "cornerRadius": 4, "labelFontSize": 16, "labelColor": "black", "labelOffset": 16, "symbolOffset": 8, "symbolSize": 400, "symbolStrokeWidth": 0, "symbolOpacity": 1}}
            }
          }
        ]
      },
      {
        "width": 287, "height": 385,
        "layer": [
          {
            "data": {"name": "b_thin"},
            "mark": {"type": "line", "strokeWidth": 1, "opacity": 0.35, "clip": true},
            "encoding": {
              "x": {"field": "v", "type": "quantitative", "scale": {"domain": [-8, 1.5], "nice": false, "zero": false},
                    "axis": {"values": [-7.5,-5,-2.5,0], "format": ".1f", "title": "CO₂ flux (mmol m⁻² d⁻¹)", "titlePadding": 12}},
              "y": {"field": "lat", "type": "quantitative", "scale": {"domain": [-74.7, -35], "nice": false, "zero": false},
                    "axis": {"values": [-35,-55,-60,-65], "labelExpr": "abs(datum.value) + '°S'", "grid": true, "gridDash": [7,4], "gridColor": "#b0b0b0", "gridWidth": 1.6, "title": null}},
              "order": {"field": "lat", "type": "quantitative"},
              "stroke": {"field": "k", "type": "nominal", "scale": {"domain": ["m1","m2","m3","m4","m5","m6","m7","m8"], "range": ["#1f77b4","#ff7f0e","#2ca02c","#d62728","#9467bd","#8c564b","#e377c2","#7f7f7f"]}, "legend": null}
            }
          },
          {
            "data": {"name": "b_main"}, "transform": [{"filter": {"field": "s", "equal": "SOCAT"}}],
            "mark": {"type": "line", "color": "#009ADE", "strokeWidth": 3, "clip": true, "point": {"shape": "square", "size": 140, "filled": true, "color": "#009ADE", "clip": true}},
            "encoding": {"x": {"field": "v", "type": "quantitative"}, "y": {"field": "lat", "type": "quantitative"}, "order": {"field": "lat", "type": "quantitative"}}
          },
          {
            "data": {"name": "b_main"}, "transform": [{"filter": {"field": "s", "equal": "SOCAT + SOCCOM"}}],
            "mark": {"type": "line", "color": "#FFC61E", "strokeWidth": 3, "strokeDash": [11,5], "clip": true, "point": {"shape": "triangle-up", "size": 200, "filled": true, "color": "#FFC61E", "clip": true}},
            "encoding": {"x": {"field": "v", "type": "quantitative"}, "y": {"field": "lat", "type": "quantitative"}, "order": {"field": "lat", "type": "quantitative"}}
          },
          {
            "data": {"name": "b_main"}, "transform": [{"filter": {"field": "s", "equal": "SOCCOM"}}],
            "mark": {"type": "line", "color": "#00CD6C", "strokeWidth": 3, "strokeDash": [19,5,3,5], "clip": true, "point": {"shape": "M0,-1L0.235,-0.324L0.951,-0.309L0.38,0.124L0.588,0.809L0,0.4L-0.588,0.809L-0.38,0.124L-0.951,-0.309L-0.235,-0.324Z", "size": 250, "filled": true, "color": "#00CD6C", "clip": true}},
            "encoding": {"x": {"field": "v", "type": "quantitative"}, "y": {"field": "lat", "type": "quantitative"}, "order": {"field": "lat", "type": "quantitative"}}
          },
          {
            "data": {"name": "b_main"}, "transform": [{"filter": {"field": "s", "equal": "Models"}}],
            "mark": {"type": "line", "color": "#FF1F5B", "strokeWidth": 3, "clip": true, "point": {"shape": "M-1,-1L1,1M-1,1L1,-1", "size": 130, "filled": false, "strokeWidth": 2, "color": "#FF1F5B", "clip": true}},
            "encoding": {"x": {"field": "v", "type": "quantitative"}, "y": {"field": "lat", "type": "quantitative"}, "order": {"field": "lat", "type": "quantitative"}}
          },
          {
            "data": {"name": "b_text"},
            "mark": {"type": "text", "fontSize": 22, "align": "left", "baseline": "middle", "color": "black"},
            "encoding": {"x": {"field": "x", "type": "quantitative"}, "y": {"field": "lat", "type": "quantitative"}, "text": {"field": "t"}}
          },
          {
            "data": {"name": "b_label"},
            "mark": {"type": "text", "fontSize": 21, "fontWeight": "bold", "align": "left", "baseline": "middle", "color": "black"},
            "encoding": {"x": {"field": "x", "type": "quantitative"}, "y": {"field": "lat", "type": "quantitative"}, "text": {"field": "t"}}
          }
        ]
      }
    ],
    "spacing": 83,
    "resolve": {"scale": {"x": "independent", "y": "independent"}}
  },
  {
    "width": 1051, "height": 294,
    "layer": [
      {
        "data": {"name": "c_thin"},
        "mark": {"type": "line", "strokeWidth": 1, "opacity": 0.35, "clip": true},
        "encoding": {
          "x": {"field": "lon", "type": "quantitative", "scale": {"domain": [-180, 180], "nice": false, "zero": false},
                "axis": {"values": [-80,-10,35], "labelExpr": "datum.value < 0 ? abs(datum.value) + '°W' : datum.value + '°E'", "grid": true, "gridDash": [7,4], "gridColor": "#b0b0b0", "gridWidth": 1.6, "title": null}},
          "y": {"field": "v", "type": "quantitative", "scale": {"domain": [-6.9, 2], "nice": false, "zero": false},
                "axis": {"values": [-6,-4,-2,0,2], "format": "d", "title": "CO₂ flux (mmol m⁻² d⁻¹)", "titlePadding": 12}},
          "stroke": {"field": "k", "type": "nominal", "scale": {"domain": ["m1","m2","m3","m4","m5","m6","m7","m8"], "range": ["#1f77b4","#ff7f0e","#2ca02c","#d62728","#9467bd","#8c564b","#e377c2","#7f7f7f"]}, "legend": null}
        }
      },
      {
        "data": {"name": "c_main"}, "transform": [{"filter": {"field": "s", "equal": "SOCAT"}}],
        "mark": {"type": "line", "color": "#009ADE", "strokeWidth": 3, "point": {"shape": "square", "size": 140, "filled": true, "color": "#009ADE"}},
        "encoding": {"x": {"field": "lon", "type": "quantitative"}, "y": {"field": "v", "type": "quantitative"}}
      },
      {
        "data": {"name": "c_main"}, "transform": [{"filter": {"field": "s", "equal": "SOCAT + SOCCOM"}}],
        "mark": {"type": "line", "color": "#FFC61E", "strokeWidth": 3, "strokeDash": [11,5], "point": {"shape": "triangle-up", "size": 200, "filled": true, "color": "#FFC61E"}},
        "encoding": {"x": {"field": "lon", "type": "quantitative"}, "y": {"field": "v", "type": "quantitative"}}
      },
      {
        "data": {"name": "c_main"}, "transform": [{"filter": {"field": "s", "equal": "SOCCOM"}}],
        "mark": {"type": "line", "color": "#00CD6C", "strokeWidth": 3, "strokeDash": [19,5,3,5], "point": {"shape": "M0,-1L0.235,-0.324L0.951,-0.309L0.38,0.124L0.588,0.809L0,0.4L-0.588,0.809L-0.38,0.124L-0.951,-0.309L-0.235,-0.324Z", "size": 250, "filled": true, "color": "#00CD6C"}},
        "encoding": {"x": {"field": "lon", "type": "quantitative"}, "y": {"field": "v", "type": "quantitative"}}
      },
      {
        "data": {"name": "c_main"}, "transform": [{"filter": {"field": "s", "equal": "Models"}}],
        "mark": {"type": "line", "color": "#FF1F5B", "strokeWidth": 3, "point": {"shape": "M-1,-1L1,1M-1,1L1,-1", "size": 130, "filled": false, "strokeWidth": 2, "color": "#FF1F5B"}},
        "encoding": {"x": {"field": "lon", "type": "quantitative"}, "y": {"field": "v", "type": "quantitative"}}
      },
      {
        "data": {"name": "c_text"},
        "mark": {"type": "text", "fontSize": 22, "align": "center", "baseline": "middle", "color": "black"},
        "encoding": {"x": {"field": "lon", "type": "quantitative"}, "y": {"field": "v", "type": "quantitative"}, "text": {"field": "t"}}
      },
      {
        "data": {"name": "c_label"},
        "mark": {"type": "text", "fontSize": 21, "fontWeight": "bold", "align": "left", "baseline": "middle", "color": "black"},
        "encoding": {"x": {"field": "lon", "type": "quantitative"}, "y": {"field": "v", "type": "quantitative"}, "text": {"field": "t"}}
      }
    ]
  }
]
}
